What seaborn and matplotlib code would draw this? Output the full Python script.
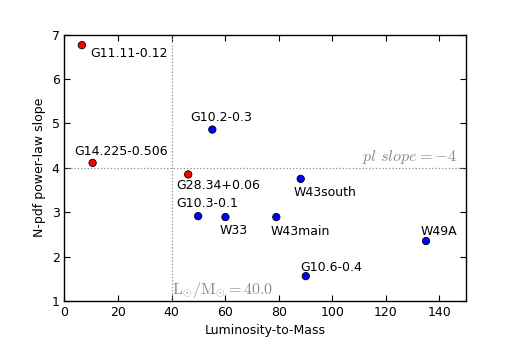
import pandas as pd
import numpy as np
import matplotlib
matplotlib.use('Agg')
import matplotlib.pyplot as plt
import seaborn as sns

# source names, luminosity-to-mass ratio and N-pdf power-law slope
names = ['G11.11-0.12', 'G14.225-0.506', 'G28.34+0.06', 'G10.2-0.3', 'W43south',
         'G10.3-0.1', 'W33', 'W43main', 'W49A', 'G10.6-0.4']
lum_to_mass = [6.5, 10.5, 46.2, 55.2, 88.2, 49.9, 60.1, 79.1, 135.0, 90.1]
pl_slope = [6.76, 4.11, 3.85, 4.86, 3.75, 2.91, 2.89, 2.89, 2.35, 1.56]
group = ['low', 'low', 'low', 'high', 'high', 'high', 'high', 'high', 'high', 'high']

# label offsets from the point (pixels)
label_dx = [8, -18, -12, -22, -7, -22, -6, -6, -5, -6]
label_dy = [-8, 11, -11, 12, -14, 13, -13, -14, 10, 9]

df = pd.DataFrame({'name': names, 'lm': lum_to_mass, 'slope': pl_slope, 'group': group})

sns.set_style('ticks')
plt.rcParams['font.family'] = ['DejaVu Sans']
plt.rcParams['mathtext.fontset'] = 'cm'
plt.rcParams['text.color'] = 'black'
plt.rcParams['axes.labelcolor'] = 'black'
plt.rcParams['xtick.color'] = 'black'
plt.rcParams['ytick.color'] = 'black'
plt.rcParams['xtick.direction'] = 'in'
plt.rcParams['ytick.direction'] = 'in'
plt.rcParams['xtick.top'] = True
plt.rcParams['ytick.right'] = True

fig = plt.figure(figsize=(5.18, 3.45), dpi=100)
ax = fig.add_axes([0.1245, 0.1275, 0.9 - 0.1245, 0.9 - 0.1275])

ax.axvline(40, color='0.55', ls=':', lw=0.9, zorder=1)
ax.axhline(4, color='0.55', ls=':', lw=0.9, zorder=1)

sns.scatterplot(data=df, x='lm', y='slope', hue='group',
                palette={'low': '#ff0000', 'high': '#0000ff'},
                s=28, edgecolor='black', linewidth=0.6, legend=False, ax=ax, zorder=3)

for n, x, y, dx, dy in zip(names, lum_to_mass, pl_slope, label_dx, label_dy):
    ax.annotate(n, (x, y), xytext=(dx * 0.72, dy * 0.72), textcoords='offset points',
                ha='left', va='center', fontsize=9, color='black')

ax.text(146.5, 4.05, r'$pl\ slope=-4$', color='0.55', ha='right', va='bottom', fontsize=11.7)
ax.text(40.3, 1.02, r'$\mathrm{L_{\odot}/M_{\odot}=40.0}$', color='0.55', ha='left', va='bottom', fontsize=11.5)

ax.set_xlim(0, 150)
ax.set_ylim(1, 7)
ax.set_xticks(np.arange(0, 141, 20))
ax.set_yticks(np.arange(1, 8, 1))
ax.tick_params(labelsize=9, length=4, width=0.8)
for sp in ax.spines.values():
    sp.set_linewidth(1)
    sp.set_color('black')
ax.set_xlabel('Luminosity-to-Mass', fontsize=9)
ax.set_ylabel('N-pdf power-law slope', fontsize=9)

fig.savefig('out.png', dpi=100)
